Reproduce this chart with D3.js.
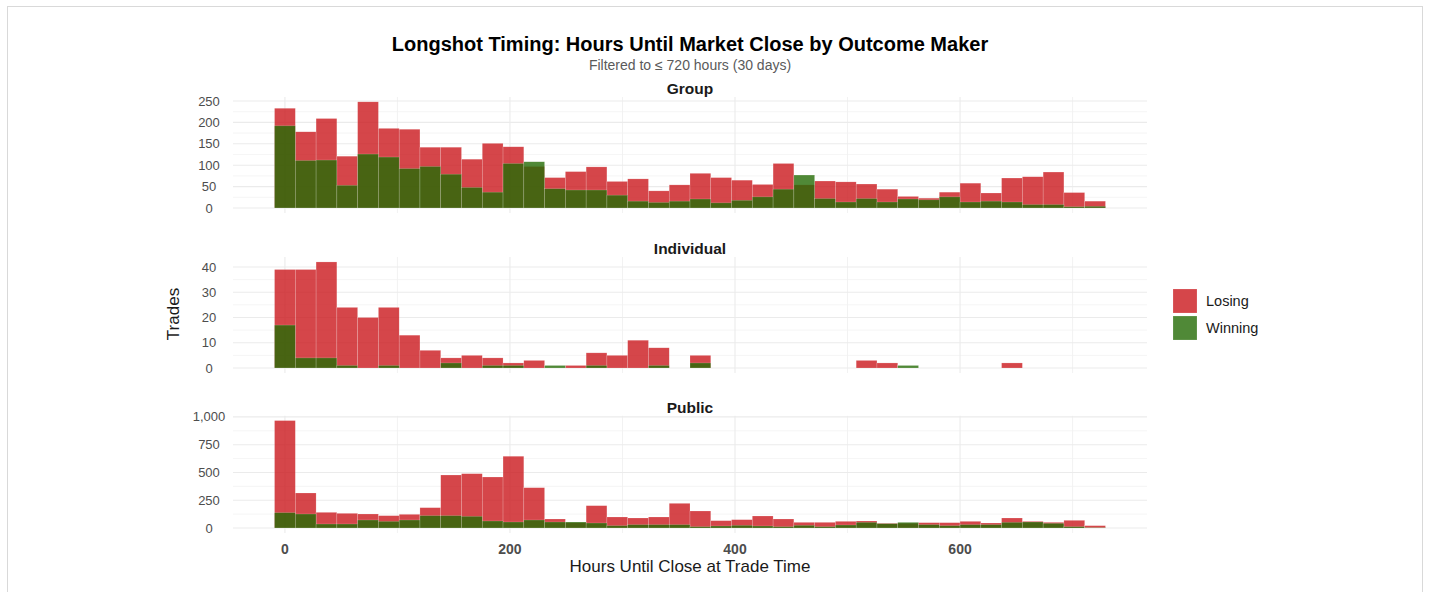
<!DOCTYPE html>
<html>
<head>
<meta charset="utf-8">
<script src="https://cdn.jsdelivr.net/npm/d3@7"></script>
<style>
  html, body { margin: 0; padding: 0; background: #ffffff; }
  svg { display: block; font-family: "Liberation Sans", Arial, sans-serif; }
</style>
</head>
<body>
<svg id="chart" width="1429" height="592"></svg>
<script>
// ---------------- DATA ----------------
const facets = ["Group", "Individual", "Public"];
const outcomes = ["Losing", "Winning"];
const binWidth = 720 / 39;            // 40 bins over 0..720 hours
const binIndex = d3.range(40);

const groupLosing  = [233,178,209,121,248,186,184,142,142,114,151,143,97,71,85,96,62,68,40,
                      54,81,71,65,55,104,54,63,61,56,44,27,23,37,58,35,70,73,84,36,16];
const groupWinning = [192,111,112,53,126,119,92,97,79,48,37,104,108,45,42,42,30,16,13,
                      16,21,12,18,26,44,77,22,14,22,14,21,19,26,14,16,14,8,8,3,4];

const indivLosing  = [39,39,42,24,20,24,13,7,4,5,4,2,3,0,1,6,5,11,8,
                      0,5,0,0,0,0,0,0,0,3,2,0,0,0,0,0,2,0,0,0,0];
const indivWinning = [17,4,4,1,0,1,0,0,2,0,1,1,0,1,0,1,0,0,1,
                      0,2,0,0,0,0,0,0,0,0,0,1,0,0,0,0,0,0,0,0,0];

const publicLosing  = [967,315,141,132,126,111,123,183,477,489,459,646,363,81,48,201,99,90,99,
                       222,153,66,75,108,81,51,51,60,63,42,42,48,48,60,45,90,60,51,69,21];
const publicWinning = [138,126,36,36,72,60,72,111,111,105,63,54,72,54,54,45,21,30,30,
                       30,12,18,24,18,12,24,12,27,51,39,51,30,21,30,30,51,54,42,12,3];

const xTicks = [0, 200, 400, 600];
const groupTicks = [0, 50, 100, 150, 200, 250];
const indivTicks = [0, 10, 20, 30, 40];
const publicTicks = [0, 250, 500, 750, 1000];

const fillColors = { Losing: "#CB181D", Winning: "#246C05" };
const fillAlpha = 0.8;

// ---------------- LAYOUT ----------------
const svg = d3.select("#chart");

svg.append("rect").attr("x", 7.5).attr("y", 6.5).attr("width", 1415).attr("height", 600)
  .attr("fill", "#ffffff").attr("stroke", "#d9d9d9").attr("stroke-width", 1);

const x = d3.scaleLinear().domain([-46.15, 766.15]).range([233, 1147]);

const panels = [
  { name: "Group", losing: groupLosing, winning: groupWinning, ticks: groupTicks,
    y: d3.scaleLinear().domain([-11.7, 259.3]).range([213, 97]) },
  { name: "Individual", losing: indivLosing, winning: indivWinning, ticks: indivTicks,
    y: d3.scaleLinear().domain([-1.98, 43.96]).range([373, 257]) },
  { name: "Public", losing: publicLosing, winning: publicWinning, ticks: publicTicks,
    y: d3.scaleLinear().domain([-45, 1010]).range([533, 415.8]) }
];

const fmt = d3.format(",");
const xMinor = [100, 300, 500, 700];

panels.forEach((p) => {
  const g = svg.append("g");
  const [y0, y1] = p.y.range();
  const [xa, xb] = x.range();
  const minorY = p.ticks.slice(0, -1).map((t, i) => (t + p.ticks[i + 1]) / 2);
  g.selectAll(".hminor").data(minorY).join("line")
    .attr("x1", xa).attr("x2", xb).attr("y1", d => p.y(d)).attr("y2", d => p.y(d))
    .attr("stroke", "#f0f0f0").attr("stroke-width", 0.7);
  g.selectAll(".vminor").data(xMinor).join("line")
    .attr("x1", d => x(d)).attr("x2", d => x(d)).attr("y1", y1).attr("y2", y0)
    .attr("stroke", "#f0f0f0").attr("stroke-width", 0.9);
  g.selectAll(".hmajor").data(p.ticks).join("line")
    .attr("x1", xa).attr("x2", xb).attr("y1", d => p.y(d)).attr("y2", d => p.y(d))
    .attr("stroke", "#ebebeb").attr("stroke-width", 1.1);
  g.selectAll(".vmajor").data(xTicks).join("line")
    .attr("x1", d => x(d)).attr("x2", d => x(d)).attr("y1", y1).attr("y2", y0)
    .attr("stroke", "#ebebeb").attr("stroke-width", 1.1);

  [["Losing", p.losing], ["Winning", p.winning]].forEach(([o, vals]) => {
    g.selectAll(".bar-" + o).data(binIndex.filter(i => vals[i] > 0)).join("rect")
      .attr("x", i => x(i * binWidth - binWidth / 2))
      .attr("width", i => x(i * binWidth + binWidth / 2) - x(i * binWidth - binWidth / 2))
      .attr("y", i => p.y(vals[i]))
      .attr("height", i => p.y(0) - p.y(vals[i]))
      .attr("fill", fillColors[o]).attr("fill-opacity", fillAlpha)
      .attr("stroke", "#ffffff").attr("stroke-opacity", 0.35).attr("stroke-width", 0.5);
  });

  g.selectAll(".ylab").data(p.ticks).join("text")
    .attr("x", 209).attr("y", d => p.y(d)).attr("dy", "0.35em")
    .attr("text-anchor", "middle").attr("font-size", 13).attr("fill", "#4d4d4d")
    .text(d => fmt(d));

  g.append("text").attr("x", (xa + xb) / 2).attr("y", y1 - 3)
    .attr("text-anchor", "middle").attr("font-size", 15.5).attr("font-weight", "bold")
    .attr("fill", "#1a1a1a").text(p.name);
});

svg.selectAll(".xlab").data(xTicks).join("text")
  .attr("x", d => x(d)).attr("y", 554)
  .attr("text-anchor", "middle").attr("font-size", 14).attr("font-weight", "bold")
  .attr("fill", "#4d4d4d").text(d => d);

svg.append("text").attr("x", x(360)).attr("y", 572).attr("text-anchor", "middle")
  .attr("font-size", 17).attr("fill", "#1a1a1a").text("Hours Until Close at Trade Time");
svg.append("text").attr("transform", "translate(179,314) rotate(-90)")
  .attr("text-anchor", "middle").attr("font-size", 17).attr("fill", "#1a1a1a").text("Trades");

svg.append("text").attr("x", 690).attr("y", 51).attr("text-anchor", "middle")
  .attr("font-size", 20).attr("font-weight", "bold").attr("fill", "#000")
  .text("Longshot Timing: Hours Until Market Close by Outcome Maker");
svg.append("text").attr("x", 690).attr("y", 70).attr("text-anchor", "middle")
  .attr("font-size", 14).attr("fill", "#5a5a5a")
  .text("Filtered to \u2264 720 hours (30 days)");

const leg = svg.append("g");
outcomes.forEach((o, i) => {
  leg.append("rect").attr("x", 1173).attr("y", 289 + i * 27).attr("width", 24).attr("height", 24)
    .attr("fill", fillColors[o]).attr("fill-opacity", fillAlpha)
    .attr("stroke", "#ffffff").attr("stroke-opacity", 0.35).attr("stroke-width", 0.5);
  leg.append("text").attr("x", 1206).attr("y", 301 + i * 27).attr("dy", "0.35em")
    .attr("font-size", 14.5).attr("fill", "#1a1a1a").text(o);
});
</script>
</body>
</html>
